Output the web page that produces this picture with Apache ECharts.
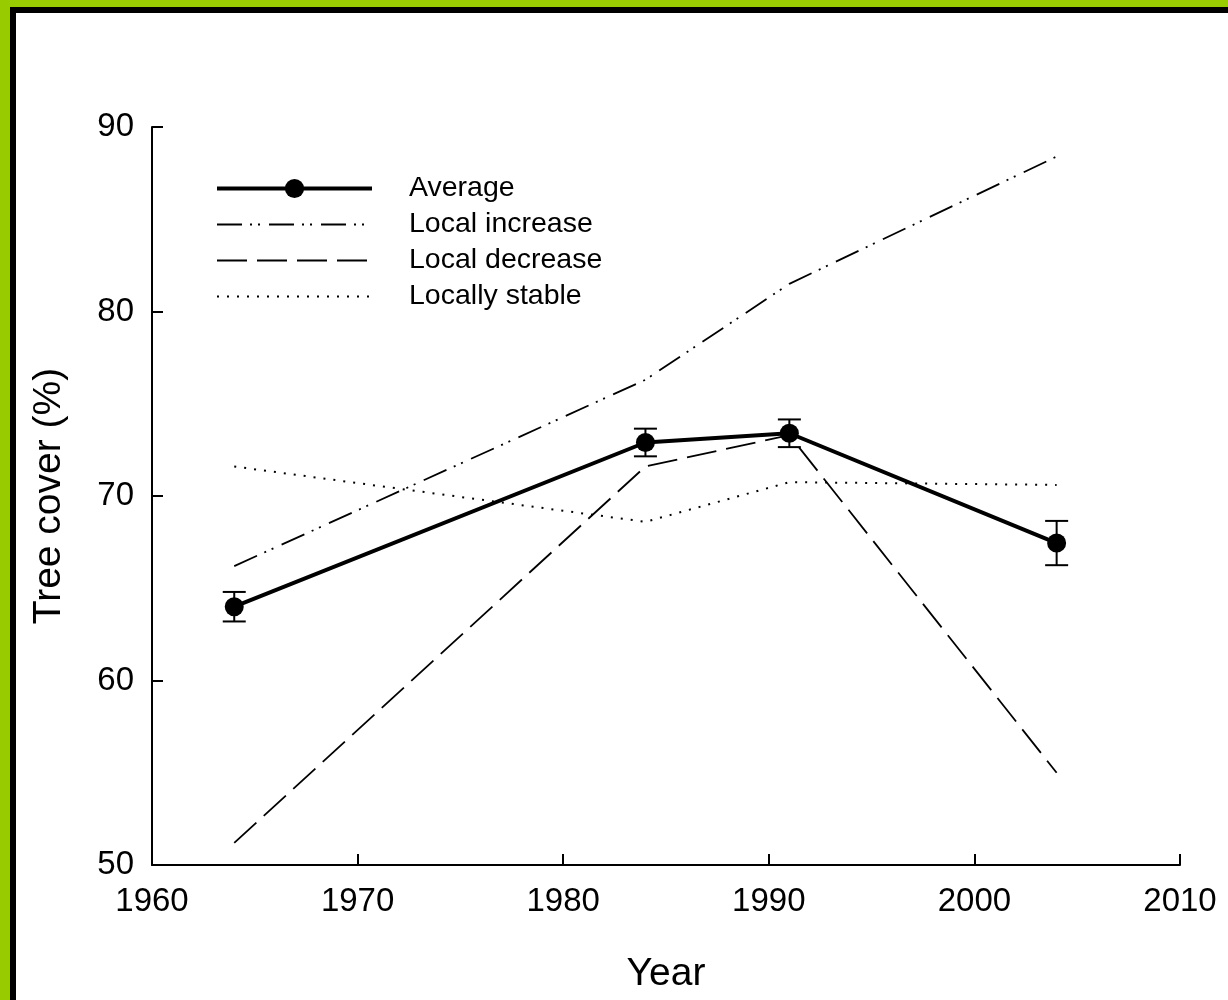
<!DOCTYPE html>
<html>
<head>
<meta charset="utf-8">
<script src="https://cdn.jsdelivr.net/npm/echarts@6/dist/echarts.min.js"></script>
<style>
    body { margin: 0; background: #fff; }
    #green { position: absolute; left: 0; top: 0; width: 1228px; height: 1000px; background: #99cc00; }
    #black { position: absolute; left: 10px; top: 7px; width: 1218px; height: 993px; background: #000; }
    #white { position: absolute; left: 16px; top: 13px; width: 1212px; height: 987px; background: #fff; }
    #chart { position: absolute; left: 0; top: 0; width: 1228px; height: 1000px; }
</style>
</head>
<body>
<div id="green"></div>
<div id="black"></div>
<div id="white"></div>
<div id="chart"></div>
<script>
    var years = [1964, 1984, 1991, 2004];
    var average = [64.0, 72.9, 73.4, 67.45];
    var averageErr = [0.8, 0.75, 0.75, 1.2];
    var localIncrease = [66.2, 76.3, 81.5, 88.4];
    var localDecrease = [51.2, 71.6, 73.3, 55.0];
    var locallyStable = [71.6, 68.6, 70.75, 70.6];
    var xTicks = [1960, 1970, 1980, 1990, 2000, 2010];
    var yTicks = [50, 60, 70, 80, 90];

    function pairs(vals) {
        return years.map(function (y, i) { return [y, vals[i]]; });
    }

    var errData = years.map(function (y, i) {
        return [y, average[i] - averageErr[i], average[i] + averageErr[i]];
    });

    var font = '"Liberation Sans", Arial, sans-serif';
    var chart = echarts.init(document.getElementById('chart'));

    var option = {
        animation: false,
        textStyle: { fontFamily: font, color: '#000' },
        grid: { left: 152, right: 48, top: 127, bottom: 135 },
        legend: {
            left: 215,
            top: 174,
            padding: 0,
            orient: 'vertical',
            itemWidth: 155,
            itemHeight: 24,
            itemGap: 7,
            data: [
                { name: 'Average', lineStyle: { width: 4 } },
                { name: 'Local increase', lineStyle: { width: 1.8 } },
                { name: 'Local decrease', lineStyle: { width: 1.8 } },
                { name: 'Locally stable', lineStyle: { width: 2 } }
            ],
            textStyle: { fontFamily: font, fontSize: 28.5, color: '#000', lineHeight: 28, padding: [0, 0, 0, 32] }
        },
        xAxis: {
            type: 'value',
            min: xTicks[0],
            max: xTicks[xTicks.length - 1],
            interval: 10,
            name: 'Year',
            nameLocation: 'middle',
            nameGap: 90,
            nameTextStyle: { fontFamily: font, fontSize: 39, color: '#000' },
            axisLine: { lineStyle: { color: '#000', width: 2 } },
            axisTick: { inside: true, length: 11, lineStyle: { color: '#000', width: 2 } },
            axisLabel: {
                fontFamily: font, fontSize: 33, color: '#000', margin: 20,
                formatter: function (v) { return String(v); }
            },
            splitLine: { show: false }
        },
        yAxis: {
            type: 'value',
            min: yTicks[0],
            max: yTicks[yTicks.length - 1],
            interval: 10,
            name: 'Tree cover (%)',
            nameLocation: 'middle',
            nameGap: 83,
            nameTextStyle: { fontFamily: font, fontSize: 39, color: '#000' },
            axisLine: { show: true, lineStyle: { color: '#000', width: 2 } },
            axisTick: { show: true, inside: true, length: 11, lineStyle: { color: '#000', width: 2 } },
            axisLabel: { fontFamily: font, fontSize: 33, color: '#000', margin: 18 },
            splitLine: { show: false }
        },
        series: [
            {
                name: 'Local increase',
                type: 'line',
                data: pairs(localIncrease),
                symbol: 'none',
                lineStyle: { color: '#000', width: 1.8, type: [25, 8, 2, 6, 2, 9] },
                itemStyle: { color: '#000', opacity: 0 }
            },
            {
                name: 'Local decrease',
                type: 'line',
                data: pairs(localDecrease),
                symbol: 'none',
                lineStyle: { color: '#000', width: 1.8, type: [30, 10] },
                itemStyle: { color: '#000', opacity: 0 }
            },
            {
                name: 'Locally stable',
                type: 'line',
                data: pairs(locallyStable),
                symbol: 'none',
                lineStyle: { color: '#000', width: 2, type: [2, 8] },
                itemStyle: { color: '#000', opacity: 0 }
            },
            {
                name: 'errorbars',
                type: 'custom',
                data: errData,
                z: 3,
                renderItem: function (params, api) {
                    var x = api.value(0);
                    var lo = api.coord([x, api.value(1)]);
                    var hi = api.coord([x, api.value(2)]);
                    var hw = 11.5;
                    var st = { stroke: '#000', lineWidth: 2 };
                    return {
                        type: 'group',
                        children: [
                            { type: 'line', shape: { x1: lo[0], y1: lo[1], x2: hi[0], y2: hi[1] }, style: st },
                            { type: 'line', shape: { x1: lo[0] - hw, y1: lo[1], x2: lo[0] + hw, y2: lo[1] }, style: st },
                            { type: 'line', shape: { x1: hi[0] - hw, y1: hi[1], x2: hi[0] + hw, y2: hi[1] }, style: st }
                        ]
                    };
                }
            },
            {
                name: 'Average',
                type: 'line',
                data: pairs(average),
                symbol: 'circle',
                symbolSize: 19,
                z: 4,
                lineStyle: { color: '#000', width: 4 },
                itemStyle: { color: '#000' }
            }
        ]
    };
    chart.setOption(option);
</script>
</body>
</html>
